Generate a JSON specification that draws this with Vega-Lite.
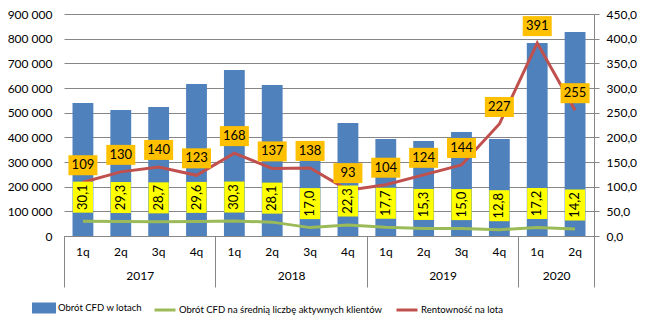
{
  "$schema": "https://vega.github.io/schema/vega-lite/v6.json",
  "width": 530,
  "height": 222,
  "autosize": "none",
  "padding": {"left": 64, "top": 14, "right": 53, "bottom": 91},
  "background": "white",
  "config": {
    "locale": {"number": {"decimal": ",", "thousands": " ", "grouping": [3], "currency": ["", " zł"]}},
    "view": {"stroke": null},
    "font": "Lato",
    "axis": {"labelFont": "Lato", "labelFontSize": 12, "labelColor": "#000000", "domainColor": "#868686", "tickColor": "#868686", "gridColor": "#868686", "gridOpacity": 1, "domainWidth": 1, "tickWidth": 1, "title": null}
  },
  "data": {
    "values": [
      {"key": "2017-1q", "lots": 539000, "avg": 30.1, "rent": 109},
      {"key": "2017-2q", "lots": 511000, "avg": 29.3, "rent": 130},
      {"key": "2017-3q", "lots": 523000, "avg": 28.7, "rent": 140},
      {"key": "2017-4q", "lots": 616000, "avg": 29.6, "rent": 123},
      {"key": "2018-1q", "lots": 673000, "avg": 30.3, "rent": 168},
      {"key": "2018-2q", "lots": 612000, "avg": 28.1, "rent": 137},
      {"key": "2018-3q", "lots": 355000, "avg": 17.0, "rent": 138},
      {"key": "2018-4q", "lots": 458000, "avg": 22.3, "rent": 93},
      {"key": "2019-1q", "lots": 393000, "avg": 17.7, "rent": 104},
      {"key": "2019-2q", "lots": 385000, "avg": 15.3, "rent": 124},
      {"key": "2019-3q", "lots": 422000, "avg": 15.0, "rent": 144},
      {"key": "2019-4q", "lots": 393000, "avg": 12.8, "rent": 227},
      {"key": "2020-1q", "lots": 782000, "avg": 17.2, "rent": 391},
      {"key": "2020-2q", "lots": 827000, "avg": 14.2, "rent": 255}
    ]
  },
  "layer": [
    {
      "mark": {"type": "bar"},
      "encoding": {
        "x": {"field": "key", "type": "ordinal", "sort": null,
          "scale": {"paddingInner": 0.45, "paddingOuter": 0.225},
          "axis": {"orient": "bottom", "labelExpr": "slice(datum.value, 5)", "ticks": false, "domain": true, "labelAngle": 0, "labelPadding": 10, "labelOverlap": false}},
        "y": {"field": "lots", "type": "quantitative",
          "scale": {"domain": [0, 900000], "nice": false},
          "axis": {"orient": "left", "values": [0, 100000, 200000, 300000, 400000, 500000, 600000, 700000, 800000, 900000], "format": ",.0f", "grid": true, "ticks": false, "domain": false, "labelPadding": 12}},
        "color": {"datum": "Obrót CFD w lotach", "type": "nominal",
          "scale": {"domain": ["Obrót CFD w lotach", "Obrót CFD na średnią liczbę aktywnych  klientów", "Rentowność na lota"], "range": ["#4F81BD", "#9BBB59", "#C0504D"]},
          "legend": {"orient": "none", "legendX": -32, "legendY": 282, "direction": "horizontal", "title": null, "symbolSize": 441, "labelFont": "Lato", "labelFontSize": 9.5, "labelColor": "#000000", "labelOffset": 2, "columnPadding": 5, "labelLimit": 0,
            "encode": {"symbols": {"update": {
              "shape": {"signal": "datum.value === 'Obrót CFD w lotach' ? 'M-1,-0.38H1V0.38H-1Z' : 'M-1,0H1'"},
              "fill": {"signal": "datum.value === 'Obrót CFD w lotach' ? '#4F81BD' : 'transparent'"},
              "stroke": {"signal": "datum.value === 'Obrót CFD w lotach' ? 'transparent' : scale('color', datum.value)"},
              "strokeWidth": {"value": 3},
              "opacity": {"value": 1}
            }}}}
        }
      }
    },
    {
      "encoding": {
        "x": {"field": "key", "type": "ordinal", "sort": null,
          "scale": {"type": "band", "paddingInner": 0, "paddingOuter": 0},
          "axis": {"orient": "bottom", "domain": false, "tickBand": "extent", "ticks": true, "tickSize": 51,
            "tickOpacity": {"condition": {"test": "datum.extra || indexof(['2017-4q','2018-4q','2019-4q','2020-2q'], datum.value) >= 0", "value": 1}, "value": 0},
            "labelExpr": "indexof(['2017-2q','2018-2q','2019-2q','2020-1q'], datum.value) >= 0 ? slice(datum.value, 0, 4) : ''",
            "labelOffset": 18.93, "labelAngle": 0, "labelPadding": -17, "labelOverlap": false}}
      },
      "layer": [
        {
          "mark": {"type": "line", "strokeWidth": 3},
          "encoding": {
            "y": {"field": "avg", "type": "quantitative", "scale": {"domain": [0, 450], "nice": false},
              "axis": {"orient": "right", "values": [0, 50, 100, 150, 200, 250, 300, 350, 400, 450], "format": ".1f", "grid": false, "ticks": true, "tickSize": 5, "domain": true, "labelPadding": 7}},
            "color": {"datum": "Obrót CFD na średnią liczbę aktywnych  klientów", "type": "nominal"}
          }
        },
        {
          "mark": {"type": "line", "strokeWidth": 3},
          "encoding": {
            "y": {"field": "rent", "type": "quantitative", "scale": {"domain": [0, 450], "nice": false},
              "axis": {"orient": "right", "values": [0, 50, 100, 150, 200, 250, 300, 350, 400, 450], "format": ".1f", "grid": false, "ticks": true, "tickSize": 5, "domain": true, "labelPadding": 7}},
            "color": {"datum": "Rentowność na lota", "type": "nominal"}
          }
        },
        {
          "mark": {"type": "point", "shape": "M-0.65,-1H0.65V1H-0.65Z", "size": 961, "filled": true, "fill": "#FFFF00", "opacity": 1, "strokeWidth": 0, "yOffset": -24},
          "encoding": {
            "y": {"field": "avg", "type": "quantitative", "scale": {"domain": [0, 450], "nice": false},
              "axis": {"orient": "right", "values": [0, 50, 100, 150, 200, 250, 300, 350, 400, 450], "format": ".1f", "grid": false, "ticks": true, "tickSize": 5, "domain": true, "labelPadding": 7}}
          }
        },
        {
          "mark": {"type": "text", "angle": 270, "align": "center", "baseline": "middle", "font": "Lato", "fontSize": 13, "color": "#000000", "yOffset": -24},
          "encoding": {
            "y": {"field": "avg", "type": "quantitative", "scale": {"domain": [0, 450], "nice": false},
              "axis": {"orient": "right", "values": [0, 50, 100, 150, 200, 250, 300, 350, 400, 450], "format": ".1f", "grid": false, "ticks": true, "tickSize": 5, "domain": true, "labelPadding": 7}},
            "text": {"field": "avg", "type": "quantitative", "format": ".1f"}
          }
        },
        {
          "mark": {"type": "point", "shape": "M-1.45,-1H1.45V1H-1.45Z", "size": 400, "filled": true, "fill": "#FFC000", "opacity": 1, "strokeWidth": 0, "yOffset": -17},
          "encoding": {
            "y": {"field": "rent", "type": "quantitative", "scale": {"domain": [0, 450], "nice": false},
              "axis": {"orient": "right", "values": [0, 50, 100, 150, 200, 250, 300, 350, 400, 450], "format": ".1f", "grid": false, "ticks": true, "tickSize": 5, "domain": true, "labelPadding": 7}}
          }
        },
        {
          "mark": {"type": "text", "align": "center", "baseline": "middle", "font": "Lato", "fontSize": 13, "color": "#000000", "yOffset": -17},
          "encoding": {
            "y": {"field": "rent", "type": "quantitative", "scale": {"domain": [0, 450], "nice": false},
              "axis": {"orient": "right", "values": [0, 50, 100, 150, 200, 250, 300, 350, 400, 450], "format": ".1f", "grid": false, "ticks": true, "tickSize": 5, "domain": true, "labelPadding": 7}},
            "text": {"field": "rent", "type": "quantitative", "format": ".0f"}
          }
        }
      ]
    }
  ],
  "resolve": {"scale": {"x": "independent", "y": "independent"}}
}
